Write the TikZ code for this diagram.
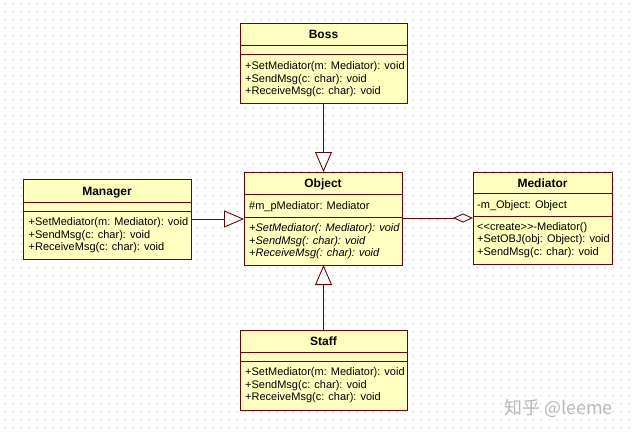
\documentclass[tikz,border=0pt]{standalone}
\usepackage{fontspec}
\setmainfont{Liberation Sans}
\newfontfamily\cjk{Noto Sans CJK SC}
\usetikzlibrary{arrows.meta}
\definecolor{umlline}{RGB}{112,0,8}
\definecolor{umlfill}{RGB}{255,255,192}
\definecolor{griddot}{RGB}{185,185,185}
\begin{document}
\begin{tikzpicture}[x=1pt,y=-1pt,
 classbox/.style={draw=umlline, fill=umlfill, line width=0.9pt, inner sep=0pt, outer sep=0pt, anchor=north west, rectangle},
 divider/.style={draw=umlline, line width=0.9pt},
 title/.style={font=\fontsize{12}{14}\selectfont\bfseries, inner sep=0pt, anchor=base},
 txt/.style={font=\fontsize{11}{13}\selectfont, inner sep=0pt, anchor=base west},
 itxt/.style={font=\fontsize{11}{13}\selectfont\itshape, inner sep=0pt, anchor=base west},
 gen/.style={draw=umlline, line width=0.9pt, -{Triangle[open, length=20pt, width=17pt]}},
 aggr/.style={draw=umlline, line width=0.9pt, -{Diamond[open, length=20pt, width=9pt]}},
]
\useasboundingbox (0,0) rectangle (636,434);
\fill[white] (0,0) rectangle (636,434);
% dotted grid
\fill[griddot] \foreach \i in {0,...,78} { \foreach \j in {0,...,53} { ({4.5+8*\i},{3+8*\j}) rectangle ++(1,1) } };

% Boss
\node[classbox, minimum width=167pt, minimum height=80pt] (boss) at (240,23) {};
\draw[divider] (boss.west |- 0,45) -- (boss.east |- 0,45);
\draw[divider] (boss.west |- 0,54) -- (boss.east |- 0,54);
\node[title] (bossT) at (323.5,38.3) {Boss};
\node[txt] (boss1) at (245,69.7) {+SetMediator(m: Mediator): void};
\node[txt] (boss2) at (245,82.2) {+SendMsg(c: char): void};
\node[txt] (boss3) at (245,94.7) {+ReceiveMsg(c: char): void};

% Object
\node[classbox, minimum width=158pt, minimum height=93pt] (object) at (244,172) {};
\draw[divider] (object.west |- 0,194) -- (object.east |- 0,194);
\draw[divider] (object.west |- 0,217) -- (object.east |- 0,217);
\node[title] (objectT) at (323,187.6) {Object};
\node[txt] (objectA) at (249,209) {\#m\_pMediator: Mediator};
\node[itxt] (object1) at (249,231.7) {+SetMediator(: Mediator): void};
\node[itxt] (object2) at (249,244.2) {+SendMsg(: char): void};
\node[itxt] (object3) at (249,256.7) {+ReceiveMsg(: char): void};

% Mediator
\node[classbox, minimum width=139pt, minimum height=92pt] (mediator) at (473,172) {};
\draw[divider] (mediator.west |- 0,193) -- (mediator.east |- 0,193);
\draw[divider] (mediator.west |- 0,216) -- (mediator.east |- 0,216);
\node[title] (mediatorT) at (542.5,187) {Mediator};
\node[txt] (mediatorA) at (477,208) {-m\_Object: Object};
\node[txt] (mediator1) at (477,230) {<{}<create>{}>-Mediator()};
\node[txt] (mediator2) at (477,242.5) {+SetOBJ(obj: Object): void};
\node[txt] (mediator3) at (477,255) {+SendMsg(c: char): void};

% Manager
\node[classbox, minimum width=168pt, minimum height=80pt] (manager) at (23,179) {};
\draw[divider] (manager.west |- 0,202) -- (manager.east |- 0,202);
\draw[divider] (manager.west |- 0,211) -- (manager.east |- 0,211);
\node[title] (managerT) at (107,195) {Manager};
\node[txt] (manager1) at (28.5,225.7) {+SetMediator(m: Mediator): void};
\node[txt] (manager2) at (28.5,238.2) {+SendMsg(c: char): void};
\node[txt] (manager3) at (28.5,250.7) {+ReceiveMsg(c: char): void};

% Staff
\node[classbox, minimum width=167pt, minimum height=80pt] (staff) at (240,330) {};
\draw[divider] (staff.west |- 0,352) -- (staff.east |- 0,352);
\draw[divider] (staff.west |- 0,361) -- (staff.east |- 0,361);
\node[title] (staffT) at (323.5,345.3) {Staff};
\node[txt] (staff1) at (245,375.7) {+SetMediator(m: Mediator): void};
\node[txt] (staff2) at (245,388.2) {+SendMsg(c: char): void};
\node[txt] (staff3) at (245,400.7) {+ReceiveMsg(c: char): void};

% connectors
\draw[gen] (boss.south) -- (boss.south |- object.north);
\draw[gen] (staff.north) -- (staff.north |- object.south);
\draw[gen] (manager.east) -- (object.west |- manager.east);
\draw[aggr] (object.east |- mediator.west) -- (mediator.west);

% watermark
\node[font=\cjk\fontsize{18}{20}\selectfont, text=black!28, anchor=base west, inner sep=0pt] (wm) at (504,414) {知乎 @leeme};
\end{tikzpicture}
\end{document}
